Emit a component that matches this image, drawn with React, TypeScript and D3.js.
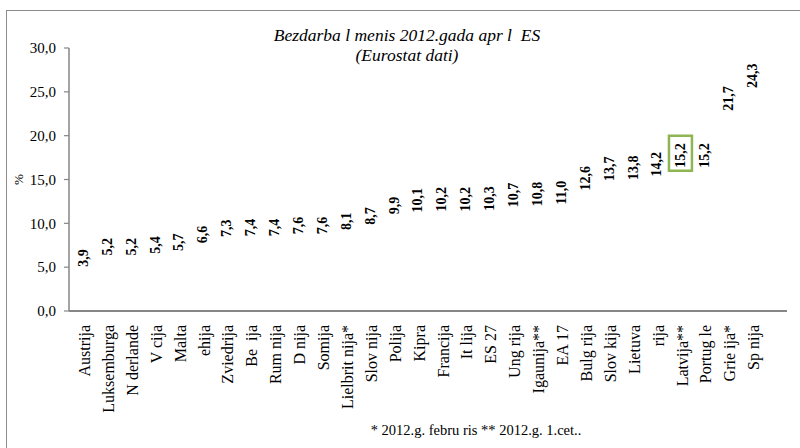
import React from "react";
import * as d3 from "d3";

const categories: string[] = [
  "Austrija", "Luksemburga", "N derlande", "V cija", "Malta", "ehija", "Zviedrija",
  "Be  ija", "Rum nija", "D nija", "Somija", "Lielbrit nija*", "Slov nija", "Polija",
  "Kipra", "Francija", "It lija", "ES 27", "Ung rija", "Igaunija**", "EA 17",
  "Bulg rija", "Slov kija", "Lietuva", "rija", "Latvija**", "Portug le", "Grie ija*", "Sp nija",
];
const values: number[] = [
  3.9, 5.2, 5.2, 5.4, 5.7, 6.6, 7.3, 7.4, 7.4, 7.6, 7.6, 8.1, 8.7, 9.9, 10.1, 10.2,
  10.2, 10.3, 10.7, 10.8, 11.0, 12.6, 13.7, 13.8, 14.2, 15.2, 15.2, 21.7, 24.3,
];
const yTicks: number[] = [0, 5, 10, 15, 20, 25, 30];
const highlighted = "Latvija**";
const titleLines = ["Bezdarba l menis 2012.gada apr l  ES", "(Eurostat dati)"];
const footnote = "* 2012.g. febru ris ** 2012.g. 1.cet..";
const yAxisTitle = "%";

export default function App() {
  const W = 800, H = 448;
  const x = d3.scaleBand<string>().domain(categories).range([71, 71 + 29 * 23.9]).padding(0);
  const y = d3.scaleLinear().domain([0, 30]).range([311, 48]);
  const fmt = (v: number) => d3.format(".1f")(v).replace(".", ",");
  const serif = '"Liberation Serif", "DejaVu Serif", serif';
  const gray = "#868686";
  const axisLeft = 69;
  const axisRight = 787;

  return (
    <svg width={W} height={H} style={{ position: "absolute", left: 0, top: 0, background: "#fff", fontFamily: serif }}>
      <rect x={6.5} y={10.5} width={820} height={460} fill="#fff" stroke="#8c8c8c" strokeWidth={1} />
      {titleLines.map((t, i) => (
        <text key={i} x={407} y={41 + i * 20} textAnchor="middle" fontStyle="italic" fontSize={17.5}
          style={{ whiteSpace: "pre", fontFamily: serif }} fill="#000">{t}</text>
      ))}
      <line x1={axisLeft} x2={axisLeft} y1={y(30)} y2={y(0)} stroke={gray} strokeWidth={1.5} />
      {yTicks.map((t) => (
        <g key={t}>
          <line x1={axisLeft - 5} x2={axisLeft} y1={y(t)} y2={y(t)} stroke={gray} strokeWidth={1.2} />
          <text x={56} y={y(t)} dy="0.35em" textAnchor="end" fontSize={15} fill="#000" style={{ fontFamily: serif }}>{fmt(t)}</text>
        </g>
      ))}
      <text transform={`translate(18,${y(15)}) rotate(-90)`} textAnchor="middle" dy="0.35em" fontSize={13} style={{ fontFamily: serif }}>{yAxisTitle}</text>
      <line x1={axisLeft} x2={axisRight} y1={y(0)} y2={y(0)} stroke={gray} strokeWidth={2} />
      {categories.map((c, i) => {
        const cx = (x(c) as number) + x.bandwidth() / 2;
        const v = values[i];
        const ly = y(v) - 10;
        return (
          <g key={c}>
            <rect x={(x(c) as number) + 4} width={x.bandwidth() - 8} y={y(v)} height={y(0) - y(v)} fill="none" />
            <text transform={`translate(${cx},${ly}) rotate(-90)`} dy="0.35em" textAnchor="start"
              fontWeight="bold" fontSize={14} fill="#000" style={{ fontFamily: serif }}>{fmt(v)}</text>
            {c === highlighted && (
              <rect x={cx - 11.5} y={ly - 32} width={23} height={35} fill="none" stroke="#8DB653" strokeWidth={2.5} />
            )}
            <text transform={`translate(${cx + 1.5},325) rotate(-90)`} dy="0.35em" textAnchor="end"
              fontSize={16} fill="#000" style={{ whiteSpace: "pre", fontFamily: serif }}>{c}</text>
          </g>
        );
      })}
      <text x={476} y={435} textAnchor="middle" fontSize={14.5} fill="#000" style={{ whiteSpace: "pre", fontFamily: serif }}>{footnote}</text>
    </svg>
  );
}
